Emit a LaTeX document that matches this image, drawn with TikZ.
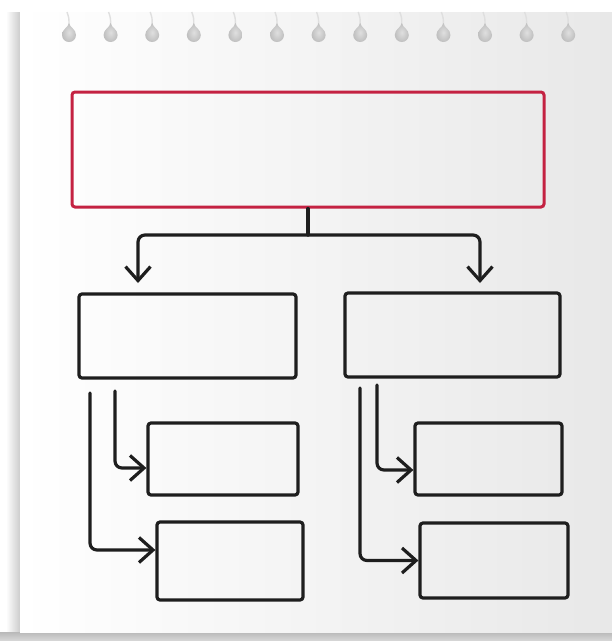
\documentclass[tikz,border=0pt]{standalone}
\usetikzlibrary{arrows.meta}
\definecolor{crimson}{RGB}{196,34,66}
\definecolor{papergray}{RGB}{232,232,232}
\definecolor{ink}{RGB}{30,30,30}
\begin{document}
\begin{tikzpicture}[x=1pt, y=-1pt,
  hdr/.style={draw=crimson, line width=3pt, rounded corners=3pt, inner sep=0pt, minimum width=472pt, minimum height=115pt},
  sub/.style={draw=ink, line width=3.2pt, rounded corners=3pt, inner sep=0pt, minimum width=217pt, minimum height=84pt},
  leaf/.style={draw=ink, line width=3.2pt, rounded corners=3pt, inner sep=0pt, minimum width=148pt, minimum height=74pt},
  stem/.style={draw=ink, line width=3.2pt, line cap=round},
  link/.style={stem, rounded corners=7pt, -{Straight Barb[length=14pt,width=25pt]}},
  wire/.style={draw=gray!25, line width=1.4pt}
]
  \useasboundingbox (0,0) rectangle (612,641);
  \fill[white] (0,0) rectangle (612,641);
  % sheet and its shadow
  \shade[left color=white, right color=gray!40] (6,12) rectangle (20,632);
  \shade[top color=gray!55, bottom color=gray!30] (0,632) rectangle (612,641);
  \shade[left color=white, right color=papergray] (20,12) rectangle (612,632);

  % punched holes
  \foreach \i in {0,...,12} {
    \begin{scope}[shift={({69+41.6*\i},35)}]
      \draw[wire] (-2,-23) .. controls (0,-17) .. (0,-10);
      \shade[inner color=gray!25, outer color=gray!50] (0,-12) .. controls (1,-7) and (7,-6) .. (7,0)
        arc[start angle=0, end angle=180, radius=7] .. controls (-7,-6) and (-1,-7) .. (0,-12) -- cycle;
    \end{scope}
  }

  \node[hdr] (top) at (308,149.5) {};
  \node[sub] (left) at (187.5,336) {};
  \node[sub, minimum width=215pt] (right) at (452.5,335) {};
  \node[leaf, minimum width=150pt, minimum height=72pt] (la) at (223,459) {};
  \node[leaf, minimum width=146pt, minimum height=78pt] (lb) at (230,561) {};
  \node[leaf, minimum width=147pt, minimum height=72pt] (ra) at (488.5,459) {};
  \node[leaf, minimum height=75pt] (rb) at (494,560.5) {};

  \coordinate (fork) at (308,235);
  \coordinate (lend) at (138,283);
  \coordinate (rend) at (480,283);
  \draw[stem] (top.south) -- (fork);
  \draw[link] (fork) -| (lend);
  \draw[link] (fork) -| (rend);

  \coordinate (lo) at (90,393);
  \coordinate (li) at (115,391);
  \coordinate (ro) at (360,388);
  \coordinate (ri) at (377,385);
  \draw[link] (li) |- ([yshift=-9pt]la.west);
  \draw[link] (lo) |- ([yshift=11pt]lb.west);
  \draw[link] (ri) |- ([yshift=-11pt]ra.west);
  \draw[link] (ro) |- (rb.west);
\end{tikzpicture}
\end{document}
